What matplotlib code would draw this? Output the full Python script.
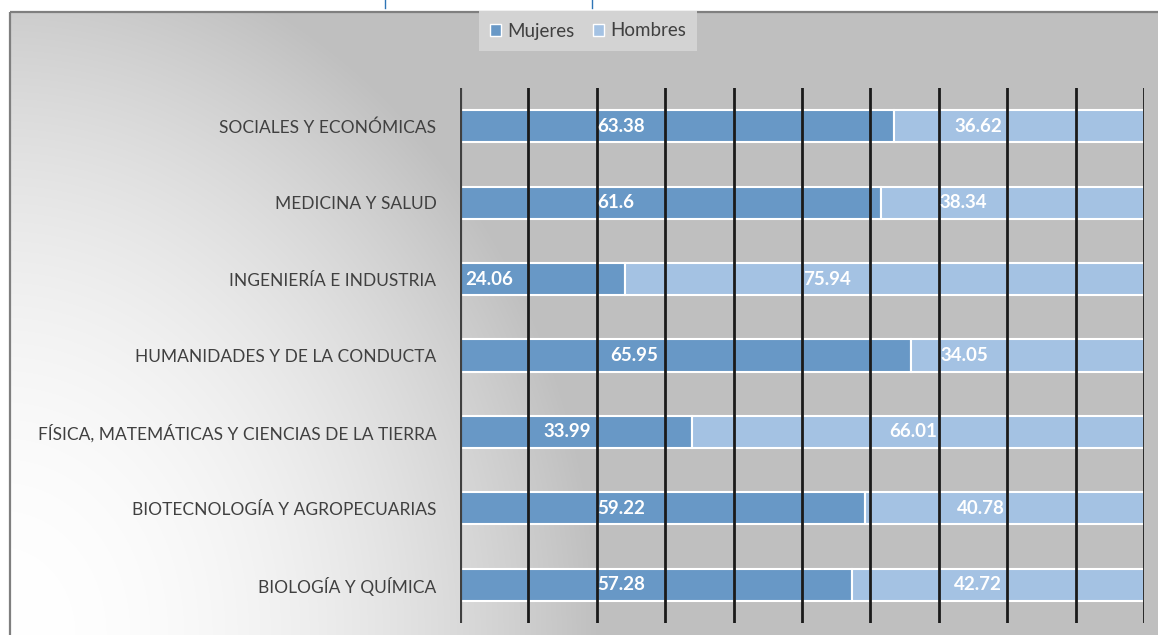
import numpy as np
import matplotlib
matplotlib.use('agg')
from matplotlib import pyplot as plt
from matplotlib.patches import Rectangle

# datos (porcentaje)
categorias = ['SOCIALES Y ECONÓMICAS', 'MEDICINA Y SALUD', 'INGENIERÍA E INDUSTRIA',
              'HUMANIDADES Y DE LA CONDUCTA', 'FÍSICA, MATEMÁTICAS Y CIENCIAS DE LA TIERRA',
              'BIOTECNOLOGÍA Y AGROPECUARIAS', 'BIOLOGÍA Y QUÍMICA']
mujeres = [63.38, 61.6, 24.06, 65.95, 33.99, 59.22, 57.28]
hombres = [36.62, 38.34, 75.94, 34.05, 66.01, 40.78, 42.72]

# donde empieza cada etiqueta de valor (como en el original)
pos_mujeres = [20.0, 20.0, 0.8, 22.0, 12.2, 20.0, 20.0]
pos_hombres = [72.3, 70.1, 50.1, 70.3, 62.7, 72.6, 72.2]

c_muj = '#6898C6'
c_hom = '#A4C2E3'
gris_txt = '#404040'

W, H = 1158, 635
fig = plt.figure(figsize=(W / 100, H / 100), dpi=100)

# fondo degradado (blanco abajo a la izquierda -> gris)
yy, xx = np.mgrid[0:H, 0:W]
d = np.sqrt(xx ** 2 + (0.85 * (H - yy)) ** 2)
t = np.clip(d / 600.0, 0, 1) ** 2
g = 1.0 - (1.0 - 191 / 255) * t
img = np.dstack([g, g, g])
img[:12, :, :] = 1.0
img[:, :10, :] = 1.0
bg = fig.add_axes([0, 0, 1, 1], zorder=0)
bg.imshow(img, aspect='auto', extent=(0, W, H, 0))
bg.set_xlim(0, W)
bg.set_ylim(H, 0)
bg.axis('off')
# borde del grafico
bg.add_patch(Rectangle((10, 12), W + 20, H + 20, fill=False, edgecolor='#7F7F7F', lw=1.6))
# restos del titulo recortado
bg.plot([385, 385], [0, 8], color='#2E75B6', lw=1)
bg.plot([592, 592], [0, 8], color='#2E75B6', lw=1)

ax = fig.add_axes([460 / W, 1 - 623 / H, (1144 - 460) / W, (623 - 88) / H], zorder=1)
ax.set_facecolor('none')

y = np.arange(len(categorias))
ax.barh(y, mujeres, height=0.42, color=c_muj, edgecolor='white', lw=1.5, label='Mujeres', zorder=2)
ax.barh(y, hombres, left=mujeres, height=0.42, color=c_hom, edgecolor='white', lw=1.5,
        label='Hombres', zorder=2)

for i in range(len(categorias)):
    ax.text(pos_mujeres[i], y[i], f'{mujeres[i]:g}', color='white', fontweight='bold',
            fontsize=13.5, family='Lato', ha='left', va='center', zorder=4)
    ax.text(pos_hombres[i], y[i], f'{hombres[i]:g}', color='white', fontweight='bold',
            fontsize=13.5, family='Lato', ha='left', va='center', zorder=4)

ax.set_xlim(0, 100)
ax.set_ylim(len(categorias) - 0.5, -0.5)
for xv in range(10, 101, 10):
    ax.axvline(xv, color='#1A1A1A', lw=2.0, zorder=3)
ax.axvline(0, color='#404040', lw=3, zorder=3)

ax.set_yticks(y)
ax.set_yticklabels(categorias, fontsize=12.5, family='Lato', color=gris_txt)
ax.tick_params(axis='y', length=0, pad=17)
ax.set_xticks([])
for s in ax.spines.values():
    s.set_visible(False)

leg = fig.legend(handles=[Rectangle((0, 0), 1, 1, fc=c_muj, ec='white'),
                          Rectangle((0, 0), 1, 1, fc=c_hom, ec='white')],
                 labels=['Mujeres', 'Hombres'], loc='center', bbox_to_anchor=(588 / W, 1 - 31 / H),
                 ncol=2, frameon=True, fancybox=False, facecolor='#D3D3D3', edgecolor='none',
                 framealpha=1, handlelength=0.6, handleheight=0.6, handletextpad=0.3,
                 columnspacing=1.0, borderpad=0.6, borderaxespad=0,
                 prop={'family': 'Lato', 'size': 13.5})
for txt in leg.get_texts():
    txt.set_color(gris_txt)
leg.set_zorder(5)

fig.savefig('out.png', dpi=100)
